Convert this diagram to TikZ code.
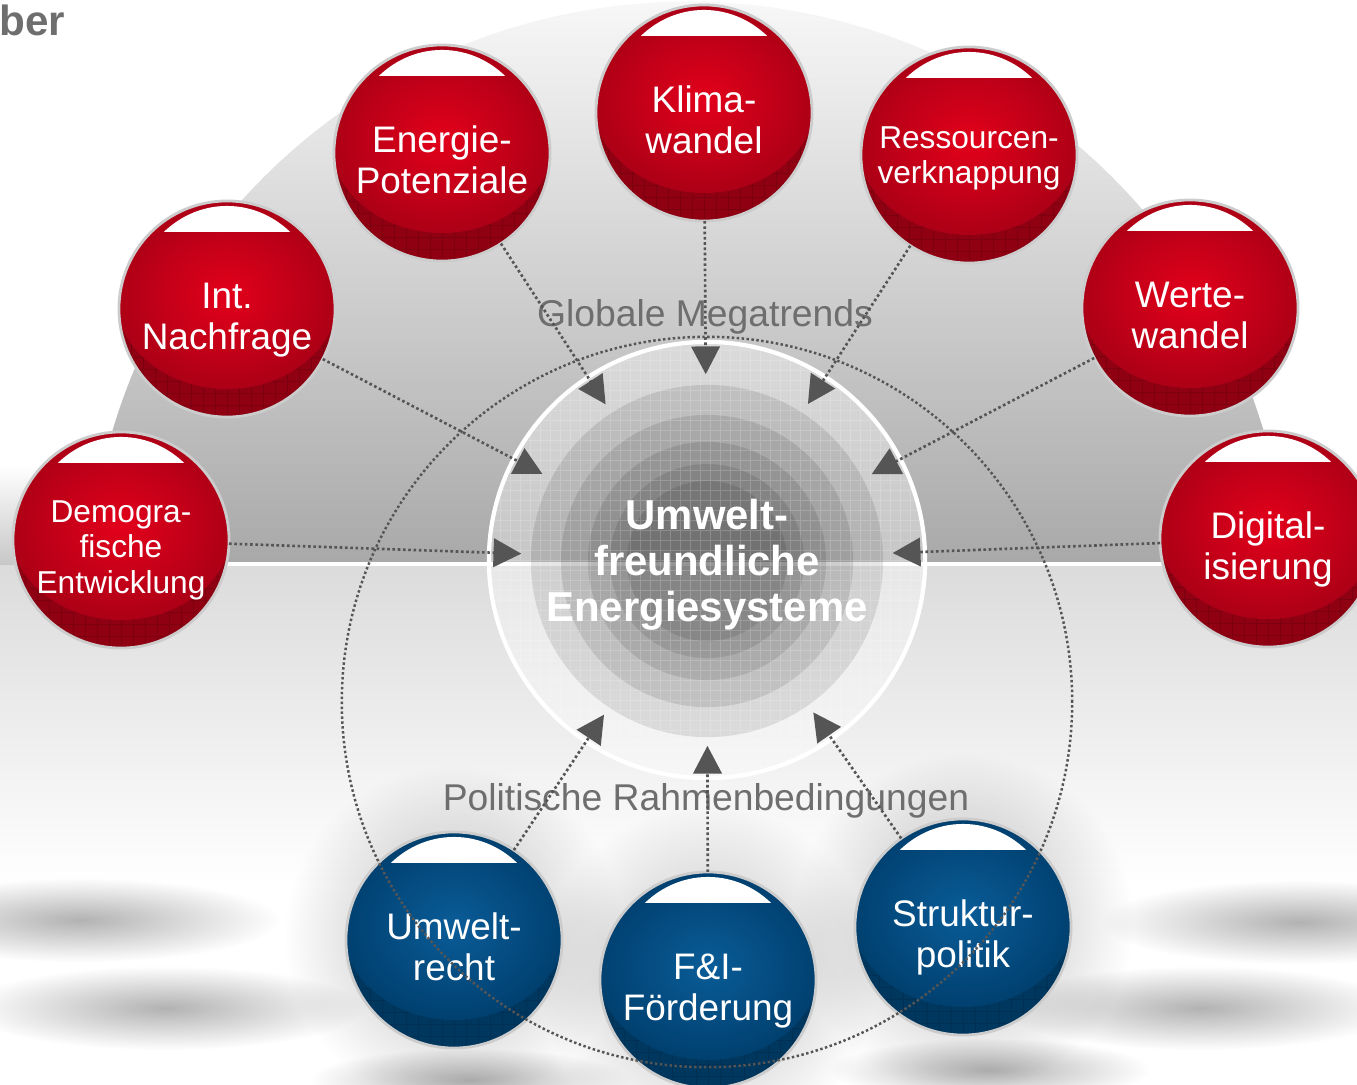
\documentclass[tikz,border=0pt]{standalone}
\usepackage{fontspec}
\setmainfont{Liberation Sans}
\usetikzlibrary{arrows.meta,fadings}

\definecolor{trendred}{HTML}{E3001B}
\definecolor{trendredrim}{HTML}{AC0016}
\definecolor{trendreddark}{HTML}{8E0012}
\definecolor{policyblue}{HTML}{0A5C98}
\definecolor{policybluerim}{HTML}{00406F}
\definecolor{policybluedark}{HTML}{00375F}
\definecolor{labelgray}{HTML}{6E6E6E}
\definecolor{dotgray}{HTML}{555555}

\tikzfading[name=softedge, inner color=transparent!0, outer color=transparent!100]

\tikzset{
  ball/.style n args={3}{circle, minimum size=2.16cm, inner sep=0pt, outer sep=0pt,
    draw=black!20, line width=0.8pt,
    path picture={
      \fill[#3] (path picture bounding box.south west) rectangle (path picture bounding box.north east);
      \draw[#3!88!black, line width=0.2pt, step=0.12cm] (path picture bounding box.south west) grid (path picture bounding box.north east);
      \shade[inner color=#1, outer color=#2] ([yshift=0.14cm]path picture bounding box.center) ellipse (1.12cm and 0.94cm);
      \clip (path picture bounding box.center) ellipse (0.95cm and 1.03cm);
      \fill[white] ([shift={(-1cm,0.77cm)}]path picture bounding box.center) rectangle ([shift={(1cm,1.1cm)}]path picture bounding box.center);
    }},
  redball/.style={ball={trendred}{trendredrim}{trendreddark}},
  blueball/.style={ball={policyblue}{policybluerim}{policybluedark}},
  balltext/.style={text=white, align=center, text depth=0pt, inner sep=0pt, yshift=-0.07cm},
  bigtext/.style={balltext, font=\fontsize{10.5}{11.7}\selectfont},
  smalltext/.style={balltext, font=\fontsize{9}{10}\selectfont},
  hub/.style={circle, minimum size=4.36cm, inner sep=0pt, draw=white, line width=1.2pt, fill=white, fill opacity=0.35},
  core/.style={circle, minimum size=3.7cm, inner sep=0pt, text=white, align=center, text depth=0pt,
    font=\bfseries\fontsize{11.9}{13.1}\selectfont},
  caption/.style={text=labelgray, font=\fontsize{10.6}{12}\selectfont, inner sep=0pt, anchor=base},
  trend/.style={draw=dotgray, line width=0.75pt, dash pattern=on 0.75pt off 0.75pt,
    -{Triangle[length=7.9pt, width=8.1pt]}},
  ringline/.style={draw=dotgray, line width=0.7pt, dash pattern=on 0.7pt off 0.7pt},
  shadowblur/.style={fill=black, fill opacity=0.3, path fading=softedge}
}

\begin{document}
\begin{tikzpicture}[x=0.01cm, y=-0.01cm]
  \useasboundingbox (0,0) rectangle (1357,1084);
  \fill[white] (0,0) rectangle (1357,1084);

  % background bands
  \shade[top color=white, bottom color=black!22] (0,465) rectangle (1357,565);
  \shade[top color=black!14, bottom color=white] (0,565) rectangle (1357,885);
  \begin{scope}
    \clip (0,0) rectangle (1357,565);
    \clip (688,602) circle (6cm);
    \shade[top color=black!3, bottom color=black!34] (0,0) rectangle (1357,565);
  \end{scope}

  % shadows
  \fill[shadowblur] (80,920) ellipse (2.0cm and 0.42cm);
  \fill[shadowblur] (165,1008) ellipse (2.0cm and 0.42cm);
  \fill[shadowblur] (1300,922) ellipse (2.0cm and 0.42cm);
  \fill[shadowblur] (1200,1008) ellipse (2.0cm and 0.42cm);
  \fill[shadowblur] (470,1080) ellipse (1.6cm and 0.32cm);
  \fill[shadowblur] (990,1070) ellipse (1.6cm and 0.32cm);
  \fill[shadowblur, fill opacity=0.28] (454,936) circle (1.7cm);
  \fill[shadowblur, fill opacity=0.28] (708,976) circle (1.7cm);
  \fill[shadowblur, fill opacity=0.28] (963,923) circle (1.7cm);

  \draw[white, line width=1.1pt] (121,564) -- (1268,564);

  % centre
  \node[hub] (hub) at (707,560) {};
  \fill[black, fill opacity=0.1] (707,561) circle (1.76cm);
  \fill[black, fill opacity=0.1] (707,561) circle (1.46cm);
  \fill[black, fill opacity=0.1] (707,561) circle (1.19cm);
  \fill[black, fill opacity=0.1] (707,561) circle (0.97cm);
  \fill[black, fill opacity=0.1] (707,561) circle (0.80cm);
  \begin{scope}
    \clip (hub.center) circle (2.17cm);
    \draw[white, opacity=0.18, line width=0.3pt, step=0.1cm] (480,330) grid (940,790);
  \end{scope}
  \node[core] (core) at (707,560) {Umwelt-\\freundliche\\Energiesysteme};

  \node[caption] (megatrends) at (705,326) {Globale Megatrends};
  \node[caption] (rahmen) at (706,810) {Politische Rahmenbedingungen};
  \node[anchor=base west, inner sep=0pt, text=labelgray, font=\bfseries\fontsize{12}{14}\selectfont] (headline) at (-1,35) {ber};

  % megatrends
  \node[redball, label={[smalltext]center:{Demogra-\\fische\\Entwicklung}}] (demo) at (121,540) {};
  \node[redball, label={[bigtext]center:{Int.\\Nachfrage}}] (nachfrage) at (227,309) {};
  \node[redball, label={[bigtext]center:{Energie-\\Potenziale}}] (energie) at (442,153) {};
  \node[redball, label={[bigtext]center:{Klima-\\wandel}}] (klima) at (704,113) {};
  \node[redball, label={[smalltext, yshift=0.07cm]center:{Ressourcen-\\verknappung}}] (ressourcen) at (969,155) {};
  \node[redball, label={[bigtext]center:{Werte-\\wandel}}] (werte) at (1190,308) {};
  \node[redball, label={[bigtext]center:{Digital-\\isierung}}] (digital) at (1268,539) {};

  % politik
  \node[blueball, label={[bigtext]center:{Umwelt-\\recht}}] (recht) at (454,940) {};
  \node[blueball, label={[bigtext]center:{F\&I-\\Förderung}}] (foerderung) at (708,980) {};
  \node[blueball, label={[bigtext]center:{Struktur-\\politik}}] (struktur) at (963,927) {};

  \draw[ringline] (707,702) circle (3.65cm);

  \draw[trend] (demo) -- (core);
  \draw[trend] (nachfrage) -- (core);
  \draw[trend] (energie) -- (core);
  \draw[trend] (klima) -- (core);
  \draw[trend] (ressourcen) -- (core);
  \draw[trend] (werte) -- (core);
  \draw[trend] (digital) -- (core);
  \draw[trend] (recht) -- (core);
  \draw[trend] (foerderung) -- (core);
  \draw[trend] (struktur) -- (core);
\end{tikzpicture}
\end{document}
